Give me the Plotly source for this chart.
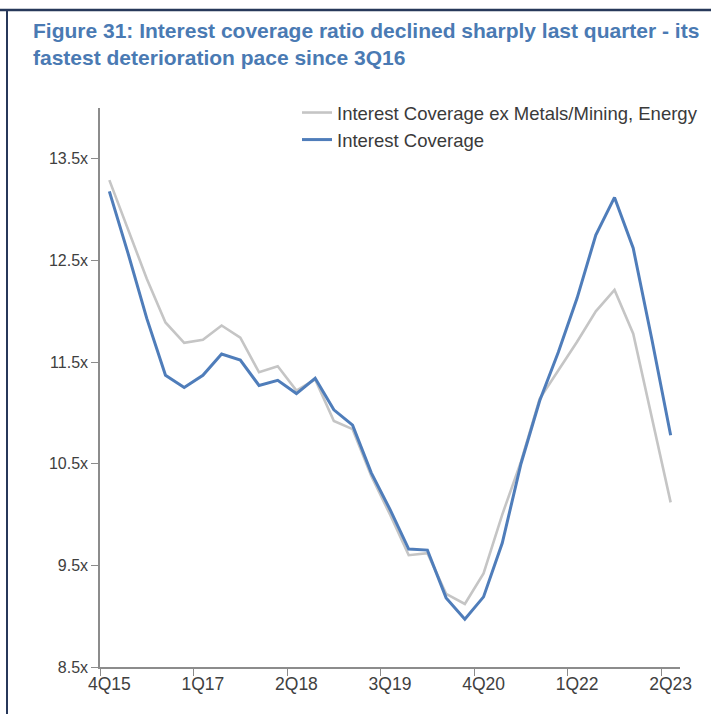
import plotly.graph_objects as go

quarters = ["4Q15","1Q16","2Q16","3Q16","4Q16","1Q17","2Q17","3Q17","4Q17","1Q18","2Q18","3Q18","4Q18",
            "1Q19","2Q19","3Q19","4Q19","1Q20","2Q20","3Q20","4Q20","1Q21","2Q21","3Q21","4Q21",
            "1Q22","2Q22","3Q22","4Q22","1Q23","2Q23"]
interest_cov = [13.18, 12.57, 11.93, 11.37, 11.25, 11.37, 11.58, 11.52, 11.27, 11.32, 11.19, 11.34, 11.03,
                10.88, 10.41, 10.05, 9.66, 9.65, 9.18, 8.97, 9.19, 9.72, 10.5, 11.12, 11.6,
                12.13, 12.75, 13.12, 12.62, 11.72, 10.78]
interest_cov_ex = [13.29, 12.8, 12.32, 11.89, 11.69, 11.72, 11.86, 11.74, 11.4, 11.46, 11.22, 11.33, 10.92,
                   10.84, 10.38, 10.0, 9.6, 9.62, 9.22, 9.12, 9.42, 10.0, 10.52, 11.14, 11.42,
                   11.7, 12.0, 12.21, 11.78, 10.96, 10.12]
x_labels = ["4Q15", "1Q17", "2Q18", "3Q19", "4Q20", "1Q22", "2Q23"]
y_ticks = [8.5, 9.5, 10.5, 11.5, 12.5, 13.5]

xs = list(range(len(quarters)))
label_pos = [quarters.index(q) for q in x_labels]

W, H = 711, 714
L, R, T, B = 100, 31, 108, 47
PW, PH = W - L - R, H - T - B


def px(x):
    return (x - L) / PW


def py(y):
    return 1 + (T - y) / PH


fig = go.Figure()
fig.add_trace(go.Scatter(x=xs, y=interest_cov_ex, mode="lines", name="Interest Coverage ex Metals/Mining, Energy",
                         line=dict(color="#c5c5c5", width=2.6)))
fig.add_trace(go.Scatter(x=xs, y=interest_cov, mode="lines", name="Interest Coverage",
                         line=dict(color="#4f7dba", width=3)))

font_fam = "Liberation Sans, Arial, sans-serif"
axis_col = "#8c8c8c"

fig.update_layout(
    width=W, height=H,
    margin=dict(l=L, r=R, t=T, b=B, autoexpand=False),
    paper_bgcolor="white", plot_bgcolor="white",
    font=dict(family=font_fam, color="#404040", size=15),
    showlegend=True,
    legend=dict(x=px(297), y=py(94), xanchor="left", yanchor="top",
                bgcolor="rgba(0,0,0,0)", font=dict(size=18.5, family=font_fam, color="#3a3a3a"),
                itemwidth=30),
    xaxis=dict(range=[-0.5, 30.5], tickmode="array", tickvals=label_pos, ticktext=x_labels,
               ticks="", showgrid=False, zeroline=False, showline=True, linecolor=axis_col, linewidth=1.5,
               tickfont=dict(size=17.5, color="#404040"),
               minor=dict(tickmode="linear", tick0=-0.5, dtick=5, ticks="outside", ticklen=7,
                          tickcolor=axis_col, tickwidth=1.2, showgrid=False)),
    yaxis=dict(range=[8.5, 14.0], tickmode="array", tickvals=y_ticks,
               ticktext=[f"{v}x" for v in y_ticks], ticks="outside", ticklen=7, tickcolor=axis_col,
               tickwidth=1.2, showgrid=False, zeroline=False, showline=True, linecolor=axis_col, linewidth=1.5,
               tickfont=dict(size=16, color="#404040")),
)

fig.add_annotation(xref="paper", yref="paper", x=px(31), y=py(17),
                   xanchor="left", yanchor="top", align="left", showarrow=False,
                   text="<b>Figure 31: Interest coverage ratio declined sharply last quarter - its<br>fastest deterioration pace since 3Q16</b>",
                   font=dict(family=font_fam, size=21, color="#4a7ab3"))

# frame lines (top and left)
fig.add_shape(type="line", xref="paper", yref="paper", x0=px(0), x1=px(W), y0=py(10), y1=py(10),
              line=dict(color="#27385a", width=2.5), layer="above")
fig.add_shape(type="line", xref="paper", yref="paper", x0=px(7), x1=px(7), y0=py(9), y1=py(H),
              line=dict(color="#27385a", width=2), layer="above")

fig.write_html("out.html", config={"displayModeBar": False},
               post_script="document.body.style.margin='0';document.body.style.overflow='hidden';")
